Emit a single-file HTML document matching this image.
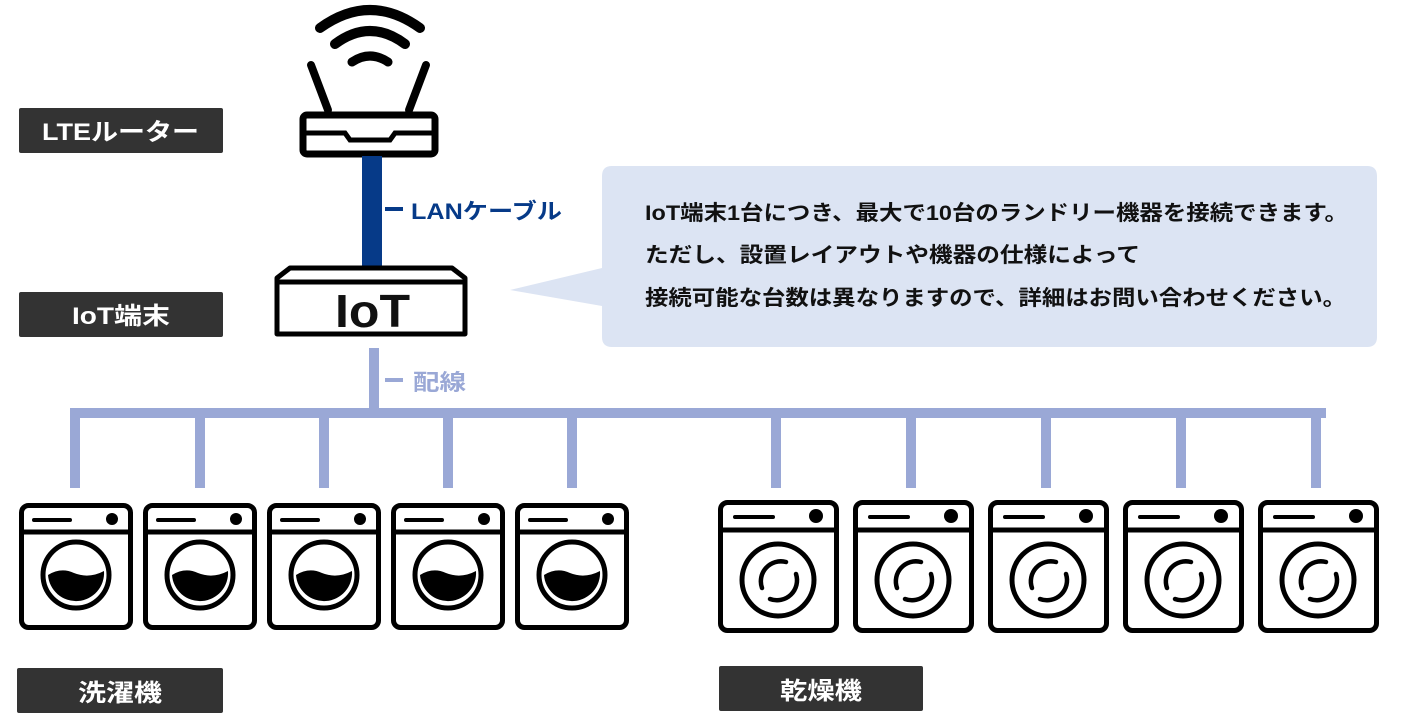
<!DOCTYPE html>
<html><head><meta charset="utf-8"><style>
html,body{margin:0;padding:0;background:#fff;}
svg text{font-family:"Liberation Sans","Noto Sans CJK JP",sans-serif;font-weight:bold;}
</style></head><body>
<svg width="1411" height="714" viewBox="0 0 1411 714" xmlns="http://www.w3.org/2000/svg">
<defs>
<g id="washer">
 <rect x="2.5" y="2.5" width="109" height="122" rx="7" fill="#fff" stroke="#000" stroke-width="5"/>
 <line x1="2" y1="29" x2="112" y2="29" stroke="#000" stroke-width="5"/>
 <line x1="15" y1="17" x2="51" y2="17" stroke="#000" stroke-width="4" stroke-linecap="round"/>
 <circle cx="93" cy="16" r="6" fill="#000"/>
 <circle cx="57" cy="72" r="33" fill="none" stroke="#000" stroke-width="5"/>
 <path d="M29 72 Q42 64 55 70 Q70 76 85 68 A28 28 0 0 1 29 72 Z" fill="#000"/>
</g>
<g id="dryer">
 <rect x="2.5" y="2.5" width="116" height="128" rx="7" fill="#fff" stroke="#000" stroke-width="5"/>
 <line x1="2" y1="30" x2="119" y2="30" stroke="#000" stroke-width="5"/>
 <line x1="17" y1="17" x2="55" y2="17" stroke="#000" stroke-width="4" stroke-linecap="round"/>
 <circle cx="98" cy="16" r="7" fill="#000"/>
 <circle cx="60" cy="80" r="36" fill="none" stroke="#000" stroke-width="5"/>
 <path d="M44 88 A20 20 0 0 1 68 62" fill="none" stroke="#000" stroke-width="4.5" stroke-linecap="round"/>
 <path d="M78 74 A20 20 0 0 1 52 99" fill="none" stroke="#000" stroke-width="4.5" stroke-linecap="round"/>
</g>
</defs>

<g fill="#9aa8d6">
 <rect x="369" y="348" width="10" height="70"/>
 <rect x="70" y="408" width="1256" height="10"/>
 <rect x="70" y="408" width="10" height="80"/>
 <rect x="195" y="408" width="10" height="80"/>
 <rect x="319" y="408" width="10" height="80"/>
 <rect x="443" y="408" width="10" height="80"/>
 <rect x="567" y="408" width="10" height="80"/>
 <rect x="771" y="408" width="10" height="80"/>
 <rect x="906" y="408" width="10" height="80"/>
 <rect x="1041" y="408" width="10" height="80"/>
 <rect x="1176" y="408" width="10" height="80"/>
 <rect x="1311" y="408" width="10" height="80"/>
 <rect x="385" y="378" width="18" height="4"/>
</g>
<text x="413" y="390" font-size="22" fill="#9aa8d6" textLength="53" lengthAdjust="spacingAndGlyphs">配線</text>

<g stroke="#000" fill="none" stroke-linecap="round">
 <path d="M320 28 Q370 -8 420 28" stroke-width="10"/>
 <path d="M335 44 Q370 18 405 44" stroke-width="10"/>
 <path d="M352 62 Q370 50 388 62" stroke-width="9"/>
 <line x1="311" y1="65" x2="328" y2="110" stroke-width="8"/>
 <line x1="426" y1="65" x2="409" y2="110" stroke-width="8"/>
</g>
<rect x="303" y="115" width="132" height="39" rx="4" fill="#fff" stroke="#000" stroke-width="7"/>
<path d="M303 133 H345 L350 140 H390 L395 133 H435" fill="none" stroke="#000" stroke-width="5"/>
<rect x="362" y="156" width="20" height="112" fill="#063a88"/>
<rect x="385" y="207" width="18" height="4" fill="#063a88"/>
<text x="411" y="219" font-size="22" fill="#063a88" textLength="151" lengthAdjust="spacingAndGlyphs">LANケーブル</text>

<path d="M290 268 H452 L465 278 V334 H277 V278 Z" fill="#fff" stroke="#000" stroke-width="5" stroke-linejoin="round"/>
<line x1="277" y1="282" x2="465" y2="282" stroke="#000" stroke-width="5"/>
<text x="335" y="327" font-size="46" fill="#111" textLength="75" lengthAdjust="spacingAndGlyphs">IoT</text>

<path d="M612 166 H1367 Q1377 166 1377 176 V337 Q1377 347 1367 347 H612 Q602 347 602 337 V306 L510 290 L602 268 V176 Q602 166 612 166 Z" fill="#dce4f3"/>
<g font-size="21" fill="#111" lengthAdjust="spacingAndGlyphs">
<text x="645" y="220" textLength="703" lengthAdjust="spacingAndGlyphs">IoT端末1台につき、最大で10台のランドリー機器を接続できます。</text>
<text x="645" y="262" textLength="495" lengthAdjust="spacingAndGlyphs">ただし、設置レイアウトや機器の仕様によって</text>
<text x="645" y="305" textLength="701" lengthAdjust="spacingAndGlyphs">接続可能な台数は異なりますので、詳細はお問い合わせください。</text>
</g>

<g fill="#333">
 <rect x="19" y="108" width="204" height="45" rx="2"/>
 <rect x="19" y="292" width="204" height="45" rx="2"/>
 <rect x="17" y="668" width="206" height="45" rx="2"/>
 <rect x="719" y="666" width="204" height="45" rx="2"/>
</g>
<g font-size="24" fill="#fff">
 <text x="42" y="140" textLength="157" lengthAdjust="spacingAndGlyphs">LTEルーター</text>
 <text x="72" y="324" textLength="98" lengthAdjust="spacingAndGlyphs">IoT端末</text>
 <text x="78" y="701" textLength="84" lengthAdjust="spacingAndGlyphs">洗濯機</text>
 <text x="780" y="699" textLength="82" lengthAdjust="spacingAndGlyphs">乾燥機</text>
</g>

<use href="#washer" x="19" y="503"/>
<use href="#washer" x="143" y="503"/>
<use href="#washer" x="267" y="503"/>
<use href="#washer" x="391" y="503"/>
<use href="#washer" x="515" y="503"/>
<use href="#dryer" x="718" y="500"/>
<use href="#dryer" x="853" y="500"/>
<use href="#dryer" x="988" y="500"/>
<use href="#dryer" x="1123" y="500"/>
<use href="#dryer" x="1258" y="500"/>
</svg>
</body></html>
